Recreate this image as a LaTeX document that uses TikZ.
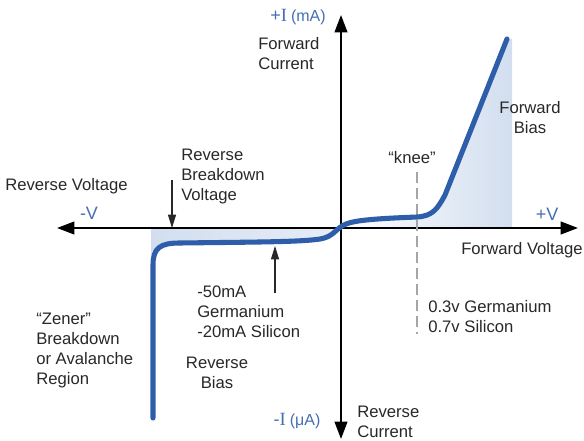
\documentclass[tikz,border=0pt]{standalone}
\usepackage{fontspec}
\setmainfont{Liberation Sans}
\newfontfamily\serifI{Liberation Serif}
\usetikzlibrary{arrows.meta}
\definecolor{curveblue}{RGB}{46,94,170}
\definecolor{lblblue}{RGB}{70,110,178}
\definecolor{txt}{RGB}{40,40,40}
\definecolor{shadeblue}{RGB}{210,222,239}
\begin{document}
\begin{tikzpicture}[x=0.75pt,y=-0.75pt,
  lbl/.style={font=\fontsize{12.5}{15}\selectfont, text=txt, inner sep=0pt, align=left},
  blbl/.style={font=\fontsize{13.5}{15}\selectfont, text=lblblue, inner sep=0pt},
  axisline/.style={line width=1.5pt, black, -{Triangle[length=13pt,width=9.5pt]}},
  pointer/.style={line width=0.9pt, txt, -{Triangle[length=10pt,width=6pt]}},
  curveline/.style={line width=3.8pt, curveblue, line cap=round, line join=round},
  kneeline/.style={gray!70, line width=0.9pt, dash pattern=on 8pt off 4pt}]
\useasboundingbox (0,0) rectangle (584,441);

% shaded regions
\shade[left color=white, right color=shadeblue]
  (342,226) .. controls (350,221) and (365,219) .. (417,217)
  .. controls (432,216) and (437,210) .. (445,195) -- (507,39)
  -- (512,39) -- (512,228) -- (342,228) -- cycle;
\shade[left color=shadeblue, right color=shadeblue!55]
  (151,228) -- (151,262) .. controls (153,248) and (160,243) .. (180,243)
  .. controls (260,242) and (300,242) .. (320,239)
  .. controls (333,237) and (336,229) .. (342,226) -- (342,228) -- cycle;

% axes
\coordinate (O) at (341,228);
\coordinate (xl) at (57,228);
\coordinate (xr) at (578,228);
\coordinate (yt) at (341,15);
\coordinate (yb) at (341,439);
\draw[axisline] (O) -- (xl);
\draw[axisline] (O) -- (xr);
\draw[axisline] (O) -- (yt);
\draw[axisline] (O) -- (yb);

% knee dashed line
\coordinate (kt) at (417,172);
\coordinate (kb) at (417,334);
\draw[kneeline] (kt) -- (kb);

% diode curve
\draw[curveline] (153,418) -- (153,265) .. controls (153,248) and (160,243) .. (180,243)
  .. controls (260,242) and (300,242) .. (320,239)
  .. controls (333,237) and (336,229) .. (342,226)
  .. controls (350,221) and (365,219) .. (417,217)
  .. controls (432,216) and (437,210) .. (445,195) -- (507,39);

% pointers
\coordinate (bva) at (172,180);
\coordinate (bvb) at (172,228);
\draw[pointer] (bva) -- (bvb);
\coordinate (ma) at (275,293);
\coordinate (mb) at (275,246);
\draw[pointer] (ma) -- (mb);

% labels
\node[blbl] (ip) at (298,17) {+{\serifI\fontsize{14}{15}\selectfont I}\hspace{3pt}{\fontsize{12}{13}\selectfont (mA)}};
\node[blbl] (im) at (297,421) {-{\serifI\fontsize{14}{15}\selectfont I}\hspace{3pt}{\fontsize{12}{13}\selectfont (μA)}};
\node[blbl] (mv) at (89,213) {-V};
\node[blbl] (pv) at (547,214) {+V};

\node[lbl, anchor=west] (fc) at (258,54) {Forward\\Current};
\node[lbl, anchor=west] (rv) at (5,186) {Reverse Voltage};
\node[lbl, anchor=west] (rbv) at (181,176) {Reverse\\Breakdown\\Voltage};
\node[lbl] (kn) at (412,158) {``knee''};
\node[lbl, align=center] (fb) at (530,118) {Forward\\Bias};
\node[lbl, anchor=west] (fv) at (461,250) {Forward Voltage};
\node[lbl, anchor=west] (gs) at (428,317) {0.3v Germanium\\0.7v Silicon};
\node[lbl, anchor=west] (ma50) at (197,312) {-50mA\\Germanium\\-20mA Silicon};
\node[lbl, align=center] (rb) at (217,373) {Reverse\\Bias};
\node[lbl, anchor=west] (zn) at (36,350) {``Zener''\\Breakdown\\or Avalanche\\Region};
\node[lbl, anchor=west] (rc) at (357,422) {Reverse\\Current};
\end{tikzpicture}
\end{document}
